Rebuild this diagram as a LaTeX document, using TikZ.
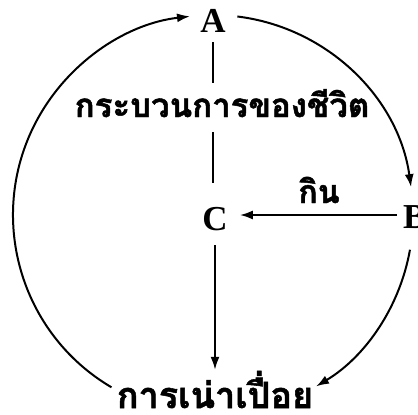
\documentclass[tikz,border=0pt]{standalone}
\usepackage{fontspec}
\setmainfont{Liberation Serif}
\newfontfamily\thai[Script=Thai,BoldFeatures={FakeBold=1.5}]{Loma}
\usetikzlibrary{arrows.meta,calc}
\begin{document}
\begin{tikzpicture}[x=1pt,y=1pt,
  lbl/.style={inner sep=0pt,font=\fontsize{35}{35}\selectfont\bfseries,text height=26pt,text depth=0pt},
  thl/.style={inner sep=0pt},
  ln/.style={line width=2pt},
  arr/.style={line width=2pt,-{Latex[length=13pt,width=9pt]}}]
\useasboundingbox (0,0) rectangle (418,-415);
\coordinate (O) at (213,-215);
\node[lbl,anchor=base] (A) at (213,-32) {A};
\node[lbl,anchor=base] (C) at (215,-230) {C};
\node[lbl,anchor=base west] (B) at (403,-228) {B};
\node[thl,anchor=base,font=\thai\bfseries\fontsize{33}{33}\selectfont,text height=25pt,text depth=1pt] (P) at (222,-117) {กระบวนการของชีวิต};
\node[thl,anchor=base,font=\thai\bfseries\fontsize{36}{36}\selectfont,text height=36pt,text depth=4pt] (D) at (215,-408) {การเน่าเปื่อย};
\node[thl,anchor=base,font=\thai\bfseries\fontsize{32}{32}\selectfont] (K) at (319,-203) {กิน};
% vertical axis
\draw[ln,shorten <=10pt,shorten >=9pt] (A.south) -- (A.south |- P.north);
\draw[ln,shorten <=14pt,shorten >=21pt] (A.south |- P.south) -- (A.south |- C.north);
\draw[arr,shorten <=15pt,shorten >=2pt] (C.south) -- (D.north);
% B to C
\draw[arr,shorten <=6pt,shorten >=12pt] (B.west) -- (B.west -| C.east);
% circle arcs
\coordinate (L0) at ($(O)+(-120.5:200)$);
\coordinate (R0) at ($(O)+(83:200)$);
\coordinate (S0) at ($(O)+(-10:200)$);
\draw[arr] (L0) arc[start angle=-120.5,end angle=-263.4,radius=200];
\draw[arr] (R0) arc[start angle=83,end angle=8,radius=200];
\draw[arr] (S0) arc[start angle=-10,end angle=-59,radius=200];
\end{tikzpicture}
\end{document}
